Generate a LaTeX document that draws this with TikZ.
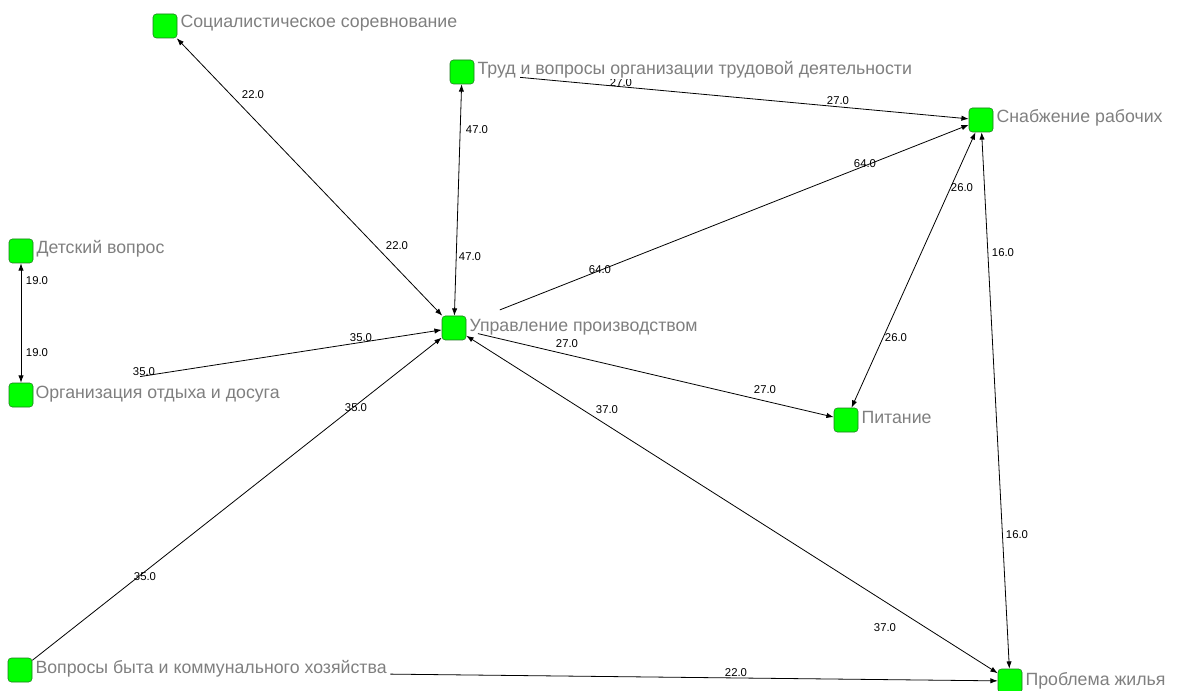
\documentclass[tikz,border=0pt]{standalone}
\usepackage{fontspec}
\setmainfont{Liberation Sans}
\usetikzlibrary{arrows.meta,calc}
\definecolor{boxgreen}{HTML}{00FF00}
\definecolor{boxline}{HTML}{1E7A1E}
\definecolor{labelgray}{HTML}{7F7F7F}
\tikzset{
  actor/.style={draw=boxline, fill=boxgreen, rounded corners=2.5pt, minimum size=18pt, inner sep=0pt},
  actorname/.style={anchor=base west, text=labelgray, font=\fontsize{13.3}{15}\selectfont, inner sep=0pt},
  tieweight/.style={font=\fontsize{8.5}{10}\selectfont, inner sep=0pt},
  tieline/.style={line width=0.6pt},
  >={Latex[length=5.5pt,width=4pt]}
}
\begin{document}
\begin{tikzpicture}[x=0.75pt,y=-0.75pt]
    % Frame
    \useasboundingbox (0,0) rectangle (1177,691);
    % Actors
    \node[actor] (soc) at (165,26) {};
    \node[actor] (trud) at (462,72) {};
    \node[actor] (snab) at (981,120) {};
    \node[actor] (det) at (21,251) {};
    \node[actor] (upr) at (454,328) {};
    \node[actor] (org) at (21,395) {};
    \node[actor] (pit) at (846,420) {};
    \node[actor] (vop) at (20,670) {};
    \node[actor] (prob) at (1010,681) {};
    % Two-way ties
    \draw[tieline, <->] (upr) -- (soc);
    \draw[tieline, <->] (upr) -- (trud);
    \draw[tieline, <->] (pit) -- (snab);
    \draw[tieline, <->] (snab) -- (prob);
    \draw[tieline, <->] (upr) -- (prob);
    \draw[tieline, <->] (det) -- (org);
    % One-way ties (start hidden behind the labels)
    \draw[tieline, ->] (vop) -- (upr);
    \coordinate (orgcut) at ($(org)!0.275!(upr)$);
    \draw[tieline, ->] (orgcut) -- (upr);
    \coordinate (uprcut) at ($(upr)!0.087!(snab)$);
    \draw[tieline, ->] (uprcut) -- (snab);
    \coordinate (uprcut2) at ($(upr)!0.061!(pit)$);
    \draw[tieline, ->] (uprcut2) -- (pit);
    \coordinate (vopcut) at ($(vop)!0.374!(prob)$);
    \draw[tieline, ->] (vopcut) -- (prob);
    % Weights
    \node[tieweight] (wsoca) at (253,95) {22.0};
    \node[tieweight] (wsocb) at (397,246) {22.0};
    \node[tieweight] (wtruda) at (477,130) {47.0};
    \node[tieweight] (wtrudb) at (470,257) {47.0};
    \node[tieweight] (wsnaba) at (621,83) {27.0};
    \node[tieweight] (wsnabb) at (838,101) {27.0};
    \node[tieweight] (wuprsa) at (600,270) {64.0};
    \node[tieweight] (wuprsb) at (865,164) {64.0};
    \node[tieweight] (wpita) at (962,188) {26.0};
    \node[tieweight] (wpitb) at (896,338) {26.0};
    \node[tieweight] (wproba) at (1003,253) {16.0};
    \node[tieweight] (wprobb) at (1017,535) {16.0};
    \node[tieweight] (wuprpa) at (567,344) {27.0};
    \node[tieweight] (wuprpb) at (765,390) {27.0};
    \node[tieweight] (wuprba) at (607,410) {37.0};
    \node[tieweight] (wuprbb) at (885,628) {37.0};
    \node[tieweight] (wvopa) at (145,577) {35.0};
    \node[tieweight] (wvopb) at (356,408) {35.0};
    \node[tieweight] (worga) at (144,372) {35.0};
    \node[tieweight] (worgb) at (361,338) {35.0};
    \node[tieweight] (wdeta) at (37,281) {19.0};
    \node[tieweight] (wdetb) at (37,353) {19.0};
    \node[tieweight] (wvoppr) at (736,673) {22.0};
    % Names
    \node[actorname] (socname) at ($(soc.east)+(3,2)$) {Социалистическое соревнование};
    \node[actorname, fill=white] (trudname) at ($(trud.east)+(3,3)$) {Труд и вопросы организации трудовой деятельности};
    \node[actorname] (snabname) at ($(snab.east)+(3,3)$) {Снабжение рабочих};
    \node[actorname] (detname) at ($(det.east)+(3,3)$) {Детский вопрос};
    \node[actorname] (uprname) at ($(upr.east)+(3,3)$) {Управление производством};
    \node[actorname] (orgname) at ($(org.east)+(2,3)$) {Организация отдыха и досуга};
    \node[actorname] (pitname) at ($(pit.east)+(3,3)$) {Питание};
    \node[actorname] (vopname) at ($(vop.east)+(3,3)$) {Вопросы быта и коммунального хозяйства};
    \node[actorname] (probname) at ($(prob.east)+(3,4)$) {Проблема жилья};
    % Tie drawn over its label
    \coordinate (trudcut) at ($(trud)!0.112!(snab)$);
    \draw[tieline, ->] (trudcut) -- (snab);
\end{tikzpicture}
\end{document}
